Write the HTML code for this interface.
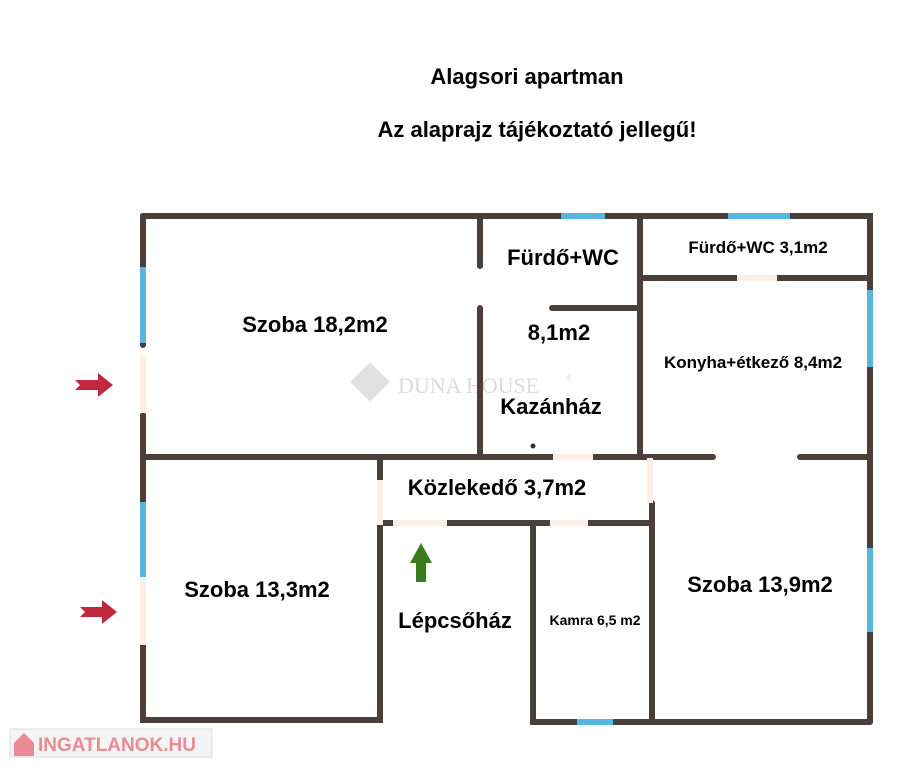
<!DOCTYPE html>
<html><head><meta charset="utf-8"><style>
body{margin:0;background:#fff;width:924px;height:768px;overflow:hidden}
svg{display:block}
text{font-family:"Liberation Sans",Arial,sans-serif;font-weight:bold;fill:#000}
</style></head><body>
<svg width="924" height="768" viewBox="0 0 924 768">
<text x="527" y="84" font-size="22" text-anchor="middle">Alagsori apartman</text>
<text x="537" y="137" font-size="22" text-anchor="middle">Az alaprajz tájékoztató jellegű!</text>
<!-- watermark -->
<g opacity="0.35">
<rect x="356" y="368" width="28" height="28" transform="rotate(45 370 382)" fill="#aaa"/>
<text x="398" y="393" font-size="22" style="font-family:'Liberation Serif',serif;font-weight:normal;fill:#999">DUNA HOUSE</text>
<text x="566" y="380" font-size="8" style="font-weight:normal;fill:#999">®</text>
</g>
<g stroke="#4a3f3a" stroke-width="6" stroke-linecap="round" fill="none">
<path d="M143 216H870V722"/>
<path d="M143 216V345M143 415V502"/>
<path d="M143 645V720H380V458"/>
<path d="M480 216V266M480 308V457"/>
<path d="M640 216V457"/>
<path d="M552 308H640"/>
<path d="M640 278H870"/>
<path d="M143 457H713M800 457H870"/>
<path d="M380 523H650"/>
<path d="M533 523V722H870"/>
<path d="M652 503V722"/>
</g>
<!-- windows -->
<g fill="#5ab4e0">
<rect x="140" y="267" width="6" height="76"/>
<rect x="140" y="502" width="6" height="75"/>
<rect x="561" y="213" width="44" height="6"/>
<rect x="728" y="213" width="62" height="6"/>
<rect x="867" y="290" width="6" height="77"/>
<rect x="867" y="548" width="6" height="84"/>
<rect x="577" y="719" width="36" height="6"/>
</g>
<!-- doors -->
<g fill="#fbefe6">
<rect x="140" y="355" width="6" height="58"/>
<rect x="140" y="577" width="6" height="68"/>
<rect x="553" y="454" width="40" height="6"/>
<rect x="737" y="275" width="40" height="6"/>
<rect x="377" y="480" width="6" height="45"/>
<rect x="647" y="458" width="6" height="45"/>
<rect x="393" y="520" width="54" height="6"/>
<rect x="550" y="520" width="38" height="6"/>
</g>
<circle cx="533" cy="446" r="2.5" fill="#333"/>
<text x="315" y="332" font-size="22" text-anchor="middle">Szoba 18,2m2</text>
<text x="563" y="265" font-size="22" text-anchor="middle">Fürdő+WC</text>
<text x="559" y="340" font-size="22" text-anchor="middle">8,1m2</text>
<text x="551" y="414" font-size="22" text-anchor="middle">Kazánház</text>
<text x="758" y="253" font-size="17" text-anchor="middle">Fürdő+WC 3,1m2</text>
<text x="753" y="368" font-size="17" text-anchor="middle">Konyha+étkező 8,4m2</text>
<text x="497" y="495" font-size="22" text-anchor="middle">Közlekedő 3,7m2</text>
<text x="257" y="597" font-size="22" text-anchor="middle">Szoba 13,3m2</text>
<text x="760" y="592" font-size="22" text-anchor="middle">Szoba 13,9m2</text>
<text x="455" y="628" font-size="22" text-anchor="middle">Lépcsőház</text>
<text x="595" y="625" font-size="14" text-anchor="middle">Kamra 6,5 m2</text>
<!-- red arrows -->
<path d="M75 380H98V373L113 385L98 397V390H75L80 385Z" fill="#c0283f"/>
<path d="M80 607H102V600L117 612L102 624V617H80L85 612Z" fill="#c0283f"/>
<!-- green arrow -->
<path d="M421 543L432 563H426V582H416V563H410Z" fill="#3b7a1e"/>
<!-- logo -->
<rect x="10" y="729" width="202" height="28" fill="#f4f4f4" stroke="#ddd"/>
<path d="M14 743L24 733L34 743V756H14Z" fill="#e98a95"/>
<text x="38" y="751" font-size="19" style="fill:#e98a95">INGATLANOK.HU</text>
</svg>
</body></html>
